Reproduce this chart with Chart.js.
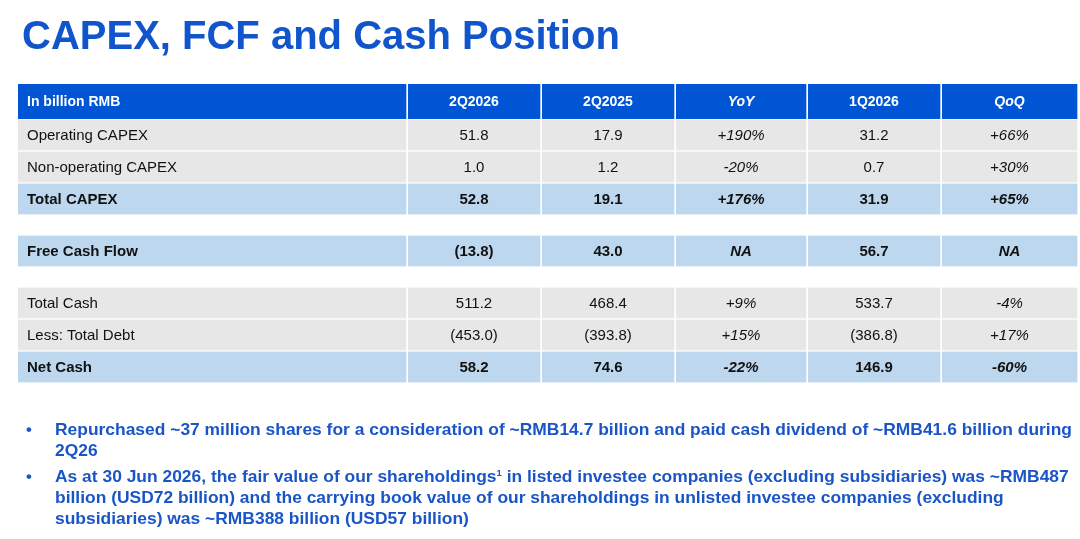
<!DOCTYPE html>
<html>
<head>
<meta charset="utf-8">
<title>CAPEX, FCF and Cash Position</title>
<script src="https://cdn.jsdelivr.net/npm/chart.js@4.4.1/dist/chart.umd.min.js"></script>
<style>
body{margin:0;background:#fff;font-family:"Liberation Sans",Arial,sans-serif;}
#page{position:relative;width:1080px;height:539px;overflow:hidden;}
#chartBox{position:absolute;left:0;top:0;width:1080px;height:539px;}
#title{position:absolute;left:22px;top:15px;font-size:40px;line-height:1;font-weight:bold;color:#1155cc;white-space:nowrap;}
.bullet{position:absolute;left:26px;font-size:16.5px;line-height:21px;font-weight:bold;color:#1a55c8;white-space:nowrap;}
.bullet .dot{position:absolute;left:0;top:0;}
.bullet .txt{position:absolute;left:29px;top:0;transform-origin:0 0;}
sup{font-size:9px;line-height:0;vertical-align:6px;}
</style>
</head>
<body>
<div id="page">
  <div id="chartBox"><canvas id="table"></canvas></div>
  <div id="title">CAPEX, FCF and Cash Position</div>
  <div class="bullet" style="top:419px;"><span class="dot">•</span><span class="txt">Repurchased ~37 million shares for a consideration of ~RMB14.7 billion and paid cash dividend of ~RMB41.6 billion during<br>2Q26</span></div>
  <div class="bullet" style="top:466px;"><span class="dot">•</span><span class="txt">As at 30 Jun 2026, the fair value of our shareholdings<sup>1</sup> in listed investee companies (excluding subsidiaries) was ~RMB487<br>billion (USD72 billion) and the carrying book value of our shareholdings in unlisted investee companies (excluding<br>subsidiaries) was ~RMB388 billion (USD57 billion)</span></div>
</div>
<script type="text/javascript">
    // table content, in billion RMB
    var headerLabel = 'In billion RMB';
    var columns = ['2Q2026', '2Q2025', 'YoY', '1Q2026', 'QoQ'];
    var rowLabels = ['Operating CAPEX', 'Non-operating CAPEX', 'Total CAPEX', 'Free Cash Flow',
                     'Total Cash', 'Less: Total Debt', 'Net Cash'];
    var rowGroup = [0, 0, 0, 1, 2, 2, 2];
    var totalRows = ['Total CAPEX', 'Free Cash Flow', 'Net Cash'];
    var val2Q2026 = [51.8, 1.0, 52.8, -13.8, 511.2, -453.0, 58.2];
    var val2Q2025 = [17.9, 1.2, 19.1, 43.0, 468.4, -393.8, 74.6];
    var yoy = ['+190%', '-20%', '+176%', 'NA', '+9%', '+15%', '-22%'];
    var val1Q2026 = [31.2, 0.7, 31.9, 56.7, 533.7, -386.8, 146.9];
    var qoq = ['+66%', '+30%', '+65%', 'NA', '-4%', '+17%', '-60%'];
    var changeCols = ['YoY', 'QoQ'];

    var colValues = [val2Q2026, val2Q2025, yoy, val1Q2026, qoq];

    // layout of the grid (x in px across the table, y in px down the table)
    // every cell loses 2px on its right to the white separator, so the last edge sits 2px out
    var colEdges = [0, 390, 524, 658, 790, 924, 1061];
    var headerH = 35, rowH = 32, groupGap = 20;
    var nCols = colEdges.length - 1;

    var rowTop = [];
    var yPos = headerH;
    for (var i = 0; i < rowLabels.length; ++i) {
        if (i > 0 && rowGroup[i] !== rowGroup[i - 1]) yPos += groupGap;
        rowTop.push(yPos);
        yPos += rowH;
    }
    var tableH = yPos;

    function fmt(v) {
        if (typeof v === 'string') return v;
        return v < 0 ? '(' + Math.abs(v).toFixed(1) + ')' : v.toFixed(1);
    }
    function isTotal(i) { return totalRows.indexOf(rowLabels[i]) !== -1; }

    var headerCells = [];
    for (var c = 0; c < nCols; ++c) {
        headerCells.push({x: [colEdges[c], colEdges[c + 1]], y: headerH / 2});
    }
    var bodyCells = [], bodyRow = [];
    for (var i = 0; i < rowLabels.length; ++i) {
        for (var c = 0; c < nCols; ++c) {
            bodyCells.push({x: [colEdges[c], colEdges[c + 1]], y: rowTop[i] + rowH / 2});
            bodyRow.push(i);
        }
    }

    var cellText = {
        id: 'cellText',
        afterDatasetsDraw: function (chart) {
            var ctx = chart.ctx, xs = chart.scales.x, ys = chart.scales.y;
            var family = '"Liberation Sans", Arial, sans-serif';
            ctx.save();
            ctx.textBaseline = 'middle';
            // header
            ctx.fillStyle = '#ffffff';
            var hy = ys.getPixelForValue(headerH / 2) + 1;
            ctx.font = 'bold 14px ' + family;
            ctx.textAlign = 'left';
            ctx.fillText(headerLabel, xs.getPixelForValue(colEdges[0]) + 9, hy);
            ctx.textAlign = 'center';
            for (var c = 0; c < columns.length; ++c) {
                var italic = changeCols.indexOf(columns[c]) !== -1 ? 'italic ' : '';
                ctx.font = italic + 'bold 14px ' + family;
                ctx.fillText(columns[c], xs.getPixelForValue((colEdges[c + 1] + colEdges[c + 2] - 2) / 2), hy);
            }
            // body
            ctx.fillStyle = '#111111';
            for (var i = 0; i < rowLabels.length; ++i) {
                var y = ys.getPixelForValue(rowTop[i] + rowH / 2) + 1;
                var weight = isTotal(i) ? 'bold ' : '';
                ctx.font = weight + '15px ' + family;
                ctx.textAlign = 'left';
                ctx.fillText(rowLabels[i], xs.getPixelForValue(colEdges[0]) + 9, y);
                ctx.textAlign = 'center';
                for (var c = 0; c < columns.length; ++c) {
                    var italic = changeCols.indexOf(columns[c]) !== -1 ? 'italic ' : '';
                    ctx.font = italic + weight + '15px ' + family;
                    ctx.fillText(fmt(colValues[c][i]), xs.getPixelForValue((colEdges[c + 1] + colEdges[c + 2] - 2) / 2), y);
                }
            }
            ctx.restore();
        }
    };

    var chart = new Chart(document.getElementById('table').getContext('2d'), {
        type: 'bar',
        data: {
            datasets: [
                {
                    label: 'header',
                    data: headerCells,
                    stack: 'table',
                    barThickness: headerH,
                    backgroundColor: '#0055d5',
                    borderColor: '#ffffff',
                    borderWidth: {left: 0, top: 0, bottom: 0, right: 2},
                    borderSkipped: false
                },
                {
                    label: 'body',
                    data: bodyCells,
                    stack: 'table',
                    barThickness: rowH - 1,
                    backgroundColor: function (ctx) {
                        return isTotal(bodyRow[ctx.dataIndex]) ? '#bdd7ee' : '#e7e7e7';
                    },
                    borderColor: '#ffffff',
                    borderWidth: {left: 0, top: 0, bottom: 0, right: 2},
                    borderSkipped: false
                }
            ]
        },
        options: {
            indexAxis: 'y',
            responsive: true,
            maintainAspectRatio: false,
            animation: false,
            layout: {padding: {left: 18, right: 1, top: 84, bottom: 539 - 84 - tableH}},
            scales: {
                x: {type: 'linear', min: colEdges[0], max: colEdges[colEdges.length - 1], stacked: false, offset: false, display: false},
                y: {type: 'linear', min: 0, max: tableH, reverse: true, stacked: true, offset: false, display: false}
            },
            plugins: {legend: {display: false}, tooltip: {enabled: false}, title: {display: false}}
        },
        plugins: [cellText]
    });

    // squeeze the bullet lines to the slide's width
    var txts = document.querySelectorAll('.bullet .txt');
    var widest = 0;
    for (var i = 0; i < txts.length; ++i) widest = Math.max(widest, txts[i].getBoundingClientRect().width);
    var squeeze = 1017 / widest;
    for (var i = 0; i < txts.length; ++i) txts[i].style.transform = 'scaleX(' + squeeze + ')';
</script>
</body>
</html>
